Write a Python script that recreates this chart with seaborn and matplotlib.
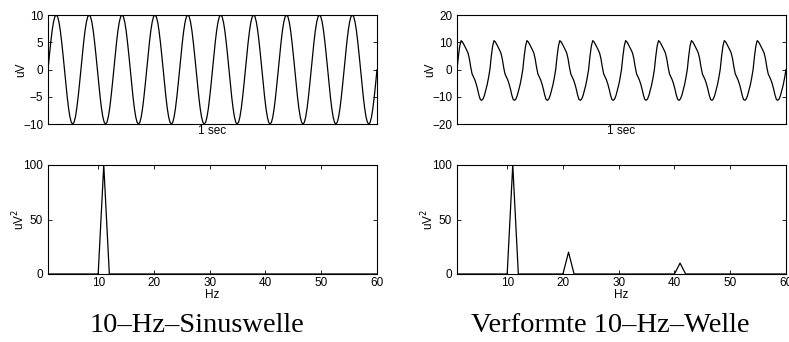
import numpy as np
import pandas as pd
import matplotlib
matplotlib.use("Agg")
import matplotlib.pyplot as plt
import seaborn as sns

# one cycle of each waveform (uV), 24 samples per cycle
sine_cycle = [0, 2.6, 5.0, 7.1, 8.7, 9.7, 10.0, 9.7, 8.7, 7.1, 5.0, 2.6,
              0, -2.6, -5.0, -7.1, -8.7, -9.7, -10.0, -9.7, -8.7, -7.1, -5.0, -2.6]
distorted_cycle = [0, 4.8, 8.6, 10.6, 10.1, 9.2, 8.2, 7.2, 6.1, 4.0, 0.9, -1.6,
                   -2.7, -3.8, -5.3, -7.2, -9.4, -11.0, -11.3, -10.8, -9.5, -7.6, -5.6, -3.0]
n_cycles = 10  # 10 Hz over 1 sec

# spectra: peaks (Hz, uV^2), zero elsewhere
hz_bins = list(range(1, 61))
sine_peak_hz = [11]
sine_peak_power = [100]
distorted_peak_hz = [11, 21, 41]
distorted_peak_power = [100, 20, 10]

captions = ["10–Hz–Sinuswelle", "Verformte 10–Hz–Welle"]


def wave_frame(cycle):
    vals = list(cycle) * n_cycles + [cycle[0]]
    t = np.arange(len(vals)) / (len(vals) - 1)
    return pd.DataFrame({"t": t, "uV": vals})


def spec_frame(peak_hz, peak_power):
    power = dict(zip(peak_hz, peak_power))
    return pd.DataFrame({"Hz": hz_bins, "P": [power.get(h, 0) for h in hz_bins]})


sns.set_style("ticks")
plt.rcParams["font.family"] = ["Liberation Sans", "DejaVu Sans"]
plt.rcParams["axes.linewidth"] = 0.8
plt.rcParams["axes.edgecolor"] = "black"
plt.rcParams["text.color"] = "black"
plt.rcParams["axes.labelcolor"] = "black"

fig = plt.figure(figsize=(7.89, 3.42), dpi=100)
W, H = 789, 342


def add_axes(x0, y0, x1, y1):
    return fig.add_axes([x0 / W, 1 - y1 / H, (x1 - x0) / W, (y1 - y0) / H])


ax_tl = add_axes(48, 15, 377, 124)
ax_tr = add_axes(457, 15, 786, 124)
ax_bl = add_axes(48, 165, 377, 274)
ax_br = add_axes(457, 165, 786, 274)

tick_kw = dict(direction="in", length=3, width=0.6, labelsize=8.5, colors="black")

# top row: waveforms
for ax, cycle, lim, ticks in [(ax_tl, sine_cycle, 10, [-10, -5, 0, 5, 10]),
                              (ax_tr, distorted_cycle, 20, [-20, -10, 0, 10, 20])]:
    df = wave_frame(cycle)
    sns.lineplot(data=df, x="t", y="uV", ax=ax, color="black", linewidth=0.9,
                 sort=False, estimator=None)
    ax.set_xlim(0, 1)
    ax.set_ylim(-lim, lim)
    ax.set_yticks(ticks)
    ax.set_yticklabels([str(v).replace("-", "\u2212") for v in ticks])
    ax.set_xticks([])
    ax.tick_params(axis="y", left=True, right=True, **tick_kw)
    ax.set_xlabel("1 sec", fontsize=8.5, labelpad=1)
    ax.set_ylabel("uV", fontsize=8.5)
    ax.yaxis.set_label_coords(-0.064, 0.5)
    for s in ax.spines.values():
        s.set_visible(True)

# bottom row: power spectra
for ax, ph, pp in [(ax_bl, sine_peak_hz, sine_peak_power),
                   (ax_br, distorted_peak_hz, distorted_peak_power)]:
    df = spec_frame(ph, pp)
    sns.lineplot(data=df, x="Hz", y="P", ax=ax, color="black", linewidth=0.9,
                 sort=False, estimator=None)
    ax.set_xlim(1, 60)
    ax.set_ylim(0, 100)
    ax.set_xticks([10, 20, 30, 40, 50, 60])
    ax.set_yticks([0, 50, 100])
    ax.tick_params(axis="both", left=True, right=True, top=True, bottom=True, **tick_kw)
    ax.tick_params(axis="x", pad=2)
    ax.set_xlabel("Hz", fontsize=8.5, labelpad=0)
    ax.set_ylabel("uV$^2$", fontsize=8.5)
    ax.yaxis.set_label_coords(-0.064, 0.5)
    for s in ax.spines.values():
        s.set_visible(True)

fig.text(197 / W, 1 - 332 / H, captions[0], ha="center", va="baseline",
         fontsize=20.5, family="Liberation Serif", color="black")
fig.text(610 / W, 1 - 332 / H, captions[1], ha="center", va="baseline",
         fontsize=20.5, family="Liberation Serif", color="black")

fig.savefig("out.png", dpi=100)
